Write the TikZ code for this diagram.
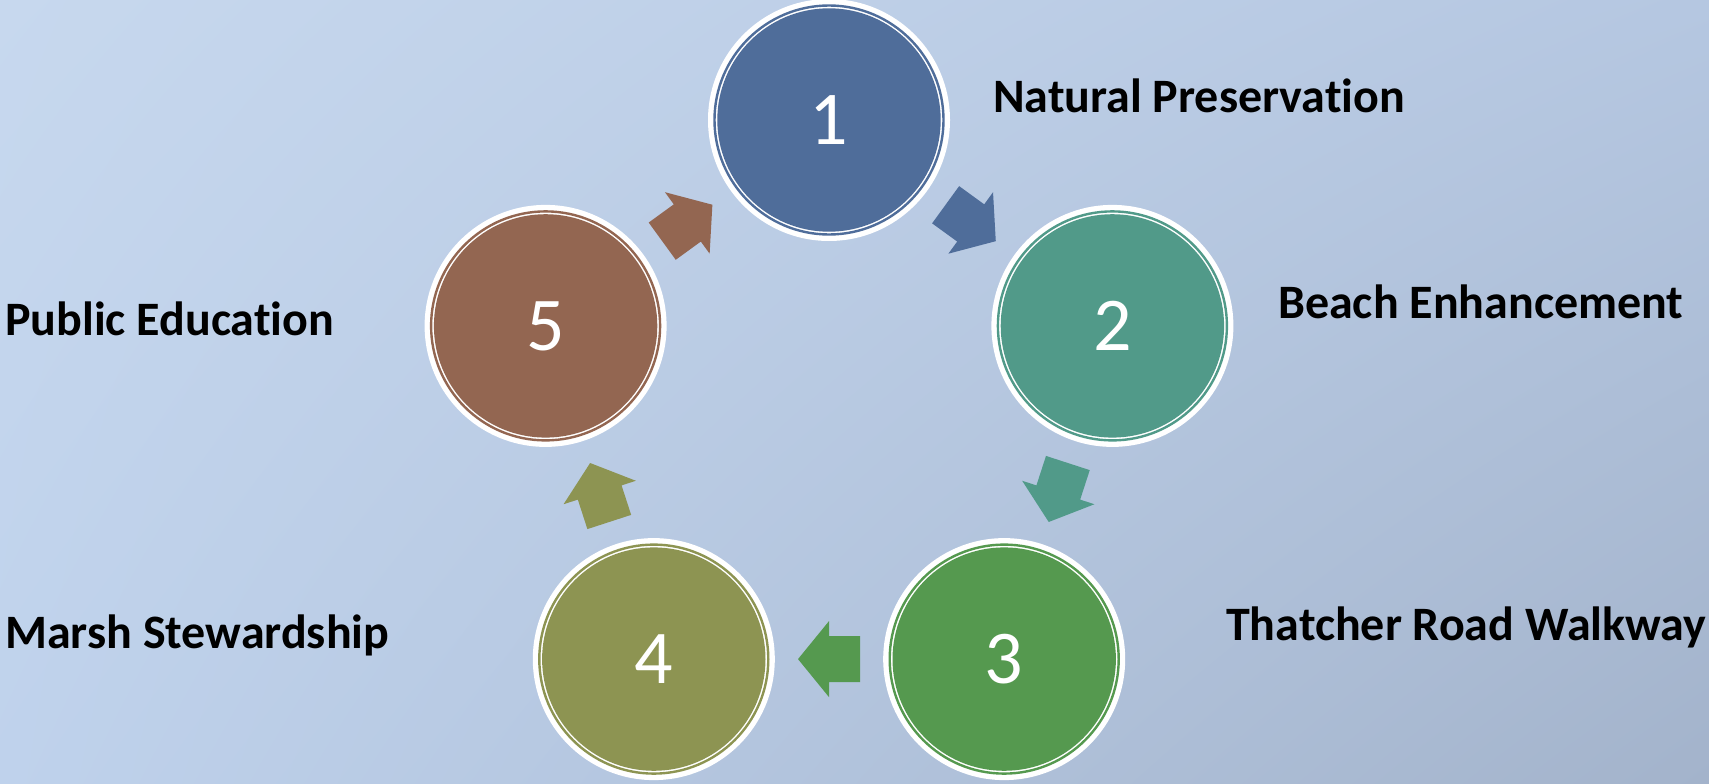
\documentclass[tikz,border=0pt]{standalone}
\usepackage{fontspec}
\setmainfont{Carlito}[Ligatures=NoCommon]
\usetikzlibrary{calc,shadings}
\definecolor{cA}{HTML}{4F6D9A}
\definecolor{cB}{HTML}{519A89}
\definecolor{cC}{HTML}{55994F}
\definecolor{cD}{HTML}{8D9452}
\definecolor{cE}{HTML}{936651}
\definecolor{bgUL}{HTML}{C7D8EE}
\definecolor{bgUR}{HTML}{B5C7E1}
\definecolor{bgLL}{HTML}{BFD2EC}
\definecolor{bgLR}{HTML}{A3B3CB}
\tikzset{
  ring/.style={circle, fill=white, minimum size=242pt, inner sep=0pt, outer sep=0pt},
  lbl/.style={anchor=base west, font=\fontsize{48}{58}\selectfont\bfseries, text=black, inner sep=0pt},
  num/.style={font=\fontsize{76}{90}\selectfont, text=white, inner sep=0pt},
  apos/.style={midway, sloped, allow upside down, rectangle, minimum width=62pt, minimum height=46pt, inner sep=0pt, outer sep=0pt}
}
\begin{document}
\begin{tikzpicture}[x=1pt, y=-1pt]
\useasboundingbox (0,0) rectangle (1709,784);
\shade[upper left=bgUL, upper right=bgUR, lower left=bgLL, lower right=bgLR] (0,0) rectangle (1709,784);
\foreach \i/\x/\y/\c in {1/829/120/cA, 2/1112.4/325.9/cB, 3/1004.2/659.1/cC, 4/653.8/659.1/cD, 5/545.6/325.9/cE}{
  \node[ring] (c\i) at (\x,\y) {};
  \draw[\c, line width=2.4pt] (c\i.center) circle (114.5pt);
  \fill[\c] (c\i.center) circle (111.7pt);
  \node[num] (n\i) at (c\i.center) {\i};
}
\foreach \a/\b/\c in {1/2/cA, 2/3/cB, 3/4/cC, 4/5/cD, 5/1/cE}{
  \path (c\a) -- (c\b) node[apos] (a\a) {};
  \fill[\c] (a\a.north west) -- (a\a.north) -- ($(a\a.north)!-15pt!(a\a.south)$) -- (a\a.east) -- ($(a\a.south)!-15pt!(a\a.north)$) -- (a\a.south) -- (a\a.south west) -- cycle;
}
\node[lbl] (t1) at (993,113) {Natural Preservation};
\node[lbl] (t2) at (1278,318) {Beach Enhancement};
\node[lbl] (t3) at (1226,640) {Thatcher Road Walkway};
\node[lbl] (t4) at (5,648) {Marsh Stewardship};
\node[lbl] (t5) at (5,335) {Public Education};
\end{tikzpicture}
\end{document}
